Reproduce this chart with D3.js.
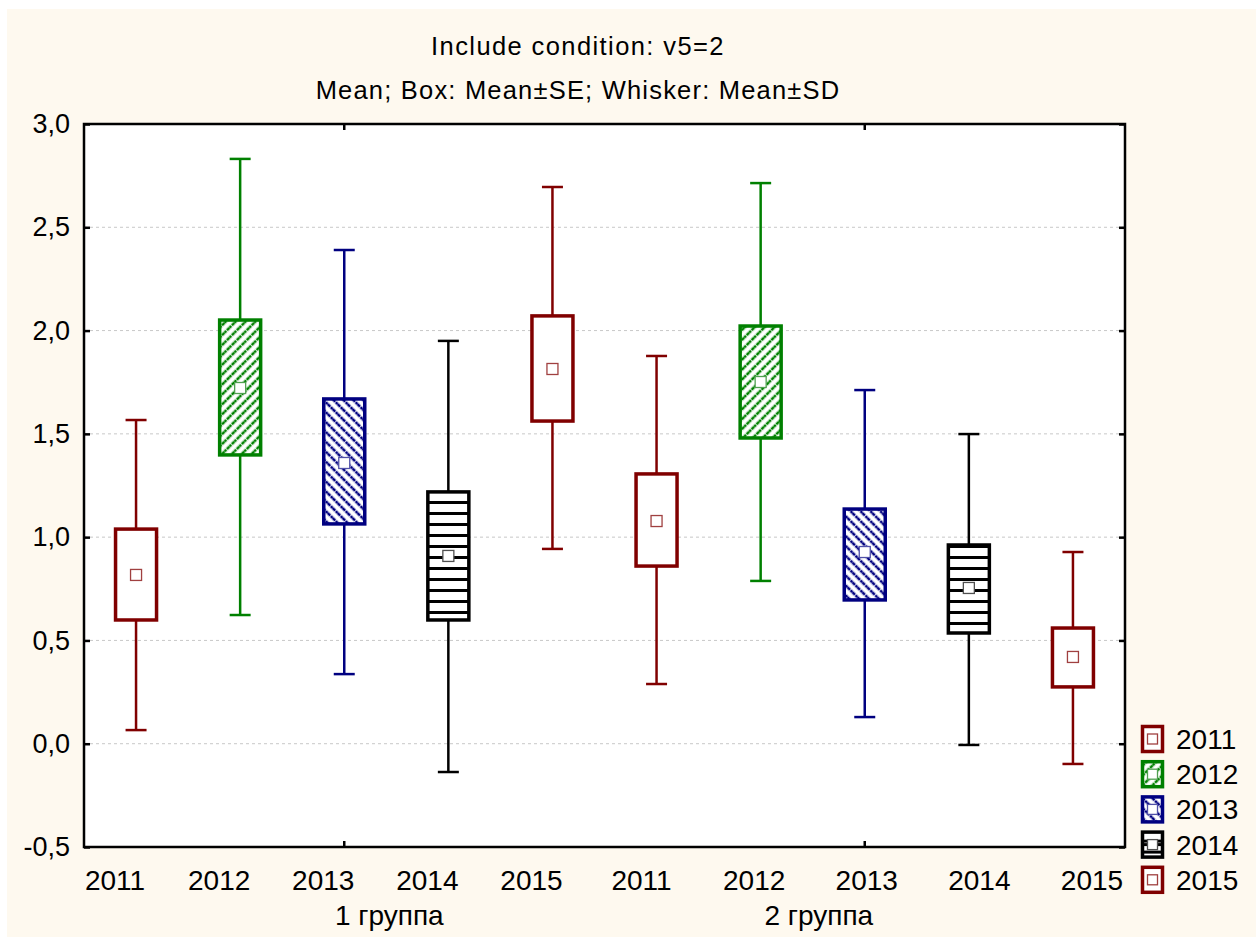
<!DOCTYPE html>
<html>
<head>
<meta charset="utf-8">
<script src="https://cdn.jsdelivr.net/npm/d3@7"></script>
<style>
  body { margin: 0; background: #fff; }
  text { font-family: "Liberation Sans", Arial, sans-serif; fill: #000; }
</style>
</head>
<body>
<svg id="chart" width="1260" height="937"></svg>
<script>
// data
const categories = ["2011", "2012", "2013", "2014", "2015", "2011", "2012", "2013", "2014", "2015"];
const groups = ["1 группа", "2 группа"];
const means  = [0.817, 1.722, 1.359, 0.909, 1.814, 1.078, 1.751, 0.928, 0.754, 0.420];
const seLow  = [0.599, 1.398, 1.064, 0.599, 1.562, 0.860, 1.480, 0.696, 0.536, 0.275];
const seHigh = [1.039, 2.051, 1.669, 1.219, 2.071, 1.306, 2.022, 1.136, 0.962, 0.560];
const sdLow  = [0.066, 0.623, 0.337, -0.137, 0.943, 0.289, 0.788, 0.129, -0.006, -0.098];
const sdHigh = [1.567, 2.831, 2.390, 1.950, 2.695, 1.877, 2.714, 1.712, 1.499, 0.928];
const yTicks = [-0.5, 0, 0.5, 1.0, 1.5, 2.0, 2.5, 3.0];
const legendYears = ["2011", "2012", "2013", "2014", "2015"];

const colors = { "2011": "#800000", "2012": "#008000", "2013": "#000080", "2014": "#000000", "2015": "#800000" };
const markColors = { "2011": "#a04040", "2012": "#50a050", "2013": "#5050a8", "2014": "#505050", "2015": "#a04040" };
const fills = { "2011": "none", "2012": "url(#hatchG)", "2013": "url(#hatchB)", "2014": "url(#stripeK)", "2015": "none" };

const svg = d3.select("#chart");
const plot = { left: 84, right: 1125, top: 124, bottom: 847 };

// background panel
svg.append("rect").attr("x", 7).attr("y", 9).attr("width", 1249).attr("height", 928).attr("fill", "#fef9ef");
svg.append("rect").attr("x", plot.left).attr("y", plot.top)
  .attr("width", plot.right - plot.left).attr("height", plot.bottom - plot.top).attr("fill", "#fff");

// fill patterns: dashed diagonal hatching, and horizontal stripes
const defs = svg.append("defs");
function hatch(id, color, angle) {
  const p = defs.append("pattern").attr("id", id).attr("patternUnits", "userSpaceOnUse")
    .attr("width", 7).attr("height", 7).attr("patternTransform", `rotate(${angle})`);
  p.append("line").attr("x1", 2).attr("y1", 0).attr("x2", 2).attr("y2", 7)
    .attr("stroke", color).attr("stroke-width", 2.6).attr("stroke-dasharray", "3,0.8");
}
hatch("hatchG", "#008000", 45);
hatch("hatchB", "#000080", -45);
const stripe = defs.append("pattern").attr("id", "stripeK").attr("patternUnits", "userSpaceOnUse")
  .attr("width", 11).attr("height", 11).attr("y", 6);
stripe.append("rect").attr("x", 0).attr("y", 0).attr("width", 11).attr("height", 3).attr("fill", "#000");

const x = d3.scaleBand().domain(d3.range(categories.length)).range([plot.left, plot.right]);
const y = d3.scaleLinear().domain([-0.5, 3]).range([plot.bottom, plot.top]);
const fmt = d => d3.format(".1f")(d).replace(".", ",").replace("\u2212", "-");

// grid lines
svg.append("g").selectAll("line")
  .data(yTicks.filter(t => t > -0.5 && t < 3))
  .join("line")
  .attr("x1", plot.left).attr("x2", plot.right)
  .attr("y1", d => y(d)).attr("y2", d => y(d))
  .attr("stroke", "#c8c8c8").attr("stroke-width", 1).attr("stroke-dasharray", "3,3");

// boxes
const boxW = 41, capW = 21;
const items = categories.map((c, i) => ({ i, year: c, mean: means[i], seLo: seLow[i], seHi: seHigh[i], sdLo: sdLow[i], sdHi: sdHigh[i] }));
const cx = d => x(d.i) + x.bandwidth() / 2;

const g = svg.append("g").selectAll("g").data(items).join("g");

g.append("line").attr("x1", cx).attr("x2", cx)
  .attr("y1", d => y(d.sdHi)).attr("y2", d => y(d.sdLo))
  .attr("stroke", d => colors[d.year]).attr("stroke-width", 2.5);
g.append("line").attr("x1", d => cx(d) - capW / 2).attr("x2", d => cx(d) + capW / 2)
  .attr("y1", d => y(d.sdHi)).attr("y2", d => y(d.sdHi))
  .attr("stroke", d => colors[d.year]).attr("stroke-width", 2.5);
g.append("line").attr("x1", d => cx(d) - capW / 2).attr("x2", d => cx(d) + capW / 2)
  .attr("y1", d => y(d.sdLo)).attr("y2", d => y(d.sdLo))
  .attr("stroke", d => colors[d.year]).attr("stroke-width", 2.5);
g.append("rect").attr("x", d => cx(d) - boxW / 2).attr("width", boxW)
  .attr("y", d => y(d.seHi)).attr("height", d => y(d.seLo) - y(d.seHi))
  .attr("fill", "#fff");
g.append("rect").attr("x", d => cx(d) - boxW / 2).attr("width", boxW)
  .attr("y", d => y(d.seHi)).attr("height", d => y(d.seLo) - y(d.seHi))
  .attr("fill", d => fills[d.year])
  .attr("stroke", d => colors[d.year]).attr("stroke-width", 3.5);
g.append("rect").attr("x", d => cx(d) - 5.5).attr("y", d => y(d.mean) - 5.5)
  .attr("width", 11).attr("height", 11)
  .attr("fill", "#fff").attr("stroke", d => markColors[d.year]).attr("stroke-width", 1.3);

// frame
svg.append("rect").attr("x", plot.left).attr("y", plot.top)
  .attr("width", plot.right - plot.left).attr("height", plot.bottom - plot.top)
  .attr("fill", "none").attr("stroke", "#000").attr("stroke-width", 2.5);

// y axes (ticks pointing inward)
const yAxis = svg.append("g").attr("transform", `translate(${plot.left},0)`)
  .call(d3.axisLeft(y).tickValues(yTicks).tickFormat(fmt).tickSize(-6).tickPadding(14));
yAxis.select(".domain").remove();
yAxis.selectAll("line").attr("stroke-width", 2.5);
yAxis.selectAll("text").style("font-size", "27px").attr("font-family", null);

const yAxisR = svg.append("g").attr("transform", `translate(${plot.right},0)`)
  .call(d3.axisRight(y).tickValues(yTicks).tickFormat("").tickSize(-6));
yAxisR.select(".domain").remove();
yAxisR.selectAll("line").attr("stroke-width", 2.5);

// x axis labels; the original spreads them a little off the box centres
const labelShift = i => i < 5 ? -21 : -15 + (i - 5) * 8.5;
const xAxis = svg.append("g").attr("transform", `translate(0,${plot.bottom})`)
  .call(d3.axisBottom(x).tickFormat(i => categories[i]).tickSize(0).tickPadding(23));
xAxis.select(".domain").remove();
xAxis.selectAll("text").style("font-size", "28px").attr("font-family", null)
  .attr("x", i => labelShift(i));

// group ticks at group centres, top and bottom
const groupCenters = groups.map((gname, k) => x(k * 5 + 2) + x.bandwidth() / 2);
svg.append("g").selectAll("line").data(groupCenters).join("line")
  .attr("x1", d => d).attr("x2", d => d).attr("y1", plot.bottom).attr("y2", plot.bottom - 6)
  .attr("stroke", "#000").attr("stroke-width", 2.5);
svg.append("g").selectAll("line").data(groupCenters).join("line")
  .attr("x1", d => d).attr("x2", d => d).attr("y1", plot.top).attr("y2", plot.top + 6)
  .attr("stroke", "#000").attr("stroke-width", 2.5);
svg.append("g").selectAll("text").data(groups).join("text")
  .attr("x", (d, k) => groupCenters[k] + (k === 0 ? 45 : -46)).attr("y", 925)
  .attr("text-anchor", "middle").style("font-size", "28px").text(d => d);

// titles
svg.append("text").attr("x", 578).attr("y", 55).attr("text-anchor", "middle")
  .style("font-size", "25.5px").style("letter-spacing", "1.4px").text("Include condition: v5=2");
svg.append("text").attr("x", 578).attr("y", 98.5).attr("text-anchor", "middle")
  .style("font-size", "25.5px").style("letter-spacing", "1.2px").text("Mean; Box: Mean±SE; Whisker: Mean±SD");

// legend
const legend = svg.append("g").selectAll("g").data(legendYears).join("g")
  .attr("transform", (d, i) => `translate(1141,${739 + i * 35.2})`);
legend.append("rect").attr("x", 0).attr("y", -14).attr("width", 23).attr("height", 28).attr("fill", "#fff");
legend.append("rect").attr("x", 1.5).attr("y", -12.5).attr("width", 20).attr("height", 25)
  .attr("fill", d => fills[d]).attr("stroke", d => colors[d]).attr("stroke-width", 3.5);
legend.filter(d => d === "2014").append("line").attr("x1", 0).attr("x2", 23).attr("y1", 0).attr("y2", 0)
  .attr("stroke", "#000").attr("stroke-width", 3);
legend.append("rect").attr("x", 6.5).attr("y", -5).attr("width", 10).attr("height", 10)
  .attr("fill", "#fff").attr("stroke", d => markColors[d]).attr("stroke-width", 1.3);
legend.append("text").attr("x", 35).attr("y", 10).style("font-size", "28px").text(d => d);
</script>
</body>
</html>
